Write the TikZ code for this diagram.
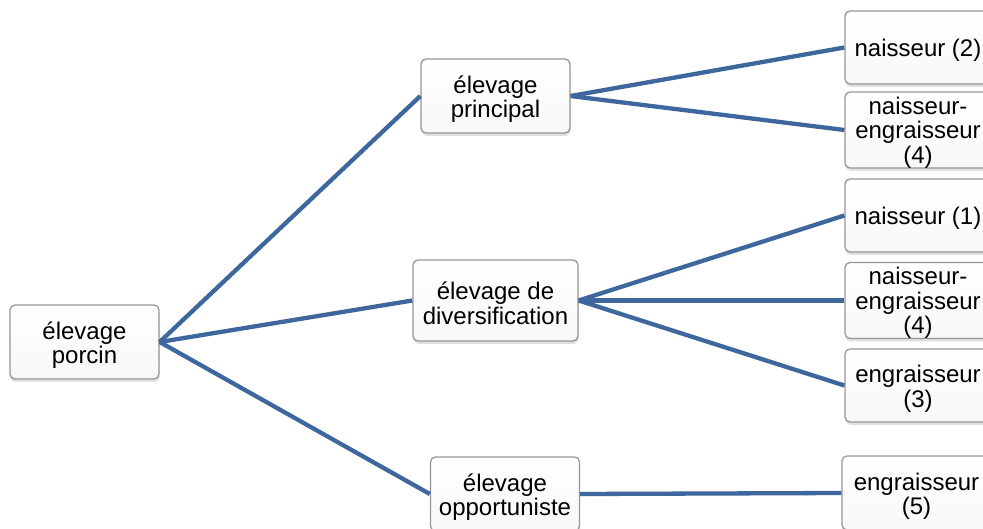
\documentclass[tikz,border=0pt]{standalone}
\usepackage{fontspec}
\setmainfont{Liberation Sans}
\usetikzlibrary{shadows}
\definecolor{linkblue}{RGB}{62,103,158}
\definecolor{boxedge}{RGB}{150,150,150}
\tikzset{
  % the argument is the height of an invisible strut beside the text,
  % which sets the text a little lower in its box
  box/.style={draw=boxedge, line width=1.3pt, rounded corners=5pt,
    top color=white, bottom color=gray!6,
    drop shadow={shadow xshift=0.5pt, shadow yshift=-3pt, opacity=0.3, fill=gray!80},
    align=center, inner sep=0pt, minimum width=149pt, minimum height=74pt,
    font=\fontsize{24}{24.5}\selectfont,
    execute at begin node={\rule{0pt}{#1}}},
  box/.default=48pt,
  link/.style={draw=linkblue, line width=4.3pt}
}
\begin{document}
\begin{tikzpicture}[x=1pt, y=-1pt]
\useasboundingbox (0,0) rectangle (983,529);
% root
\node[box] (porcin) at (84.5,342) {élevage\\porcin};
% second level
\node[box] (principal) at (495.5,96) {élevage\\principal};
\node[box, minimum width=165pt, minimum height=81pt] (divers) at (495.5,300.5) {élevage de\\diversification};
\node[box] (opport) at (505,494) {élevage\\opportuniste};
% third level
\node[box=22pt, minimum width=146pt, minimum height=73pt] (n2) at (918,47.5) {naisseur (2)};
\node[box=71pt, minimum width=146pt, minimum height=72pt] (ne4a) at (918,130) {naisseur-\\engraisseur\\(4)};
\node[box=22pt, minimum width=146pt, minimum height=73pt] (n1) at (918,215.5) {naisseur (1)};
\node[box=71pt, minimum width=146pt, minimum height=73pt] (ne4b) at (918,300.5) {naisseur-\\engraisseur\\(4)};
\node[box, minimum width=146pt, minimum height=73pt] (e3) at (918,385.5) {engraisseur\\(3)};
\node[box, minimum width=149pt, minimum height=74pt] (e5) at (916.5,493) {engraisseur\\(5)};
% connectors
\draw[link] (porcin.east) -- (principal.west);
\draw[link] (porcin.east) -- (divers.west);
\draw[link] (porcin.east) -- (opport.west);
\draw[link] (principal.east) -- (n2.west);
\draw[link] (principal.east) -- (ne4a.west);
\draw[link] (divers.east) -- (n1.west);
\draw[link] (divers.east) -- (ne4b.west);
\draw[link] (divers.east) -- (e3.west);
\draw[link] (opport.east) -- (e5.west);
\end{tikzpicture}
\end{document}
